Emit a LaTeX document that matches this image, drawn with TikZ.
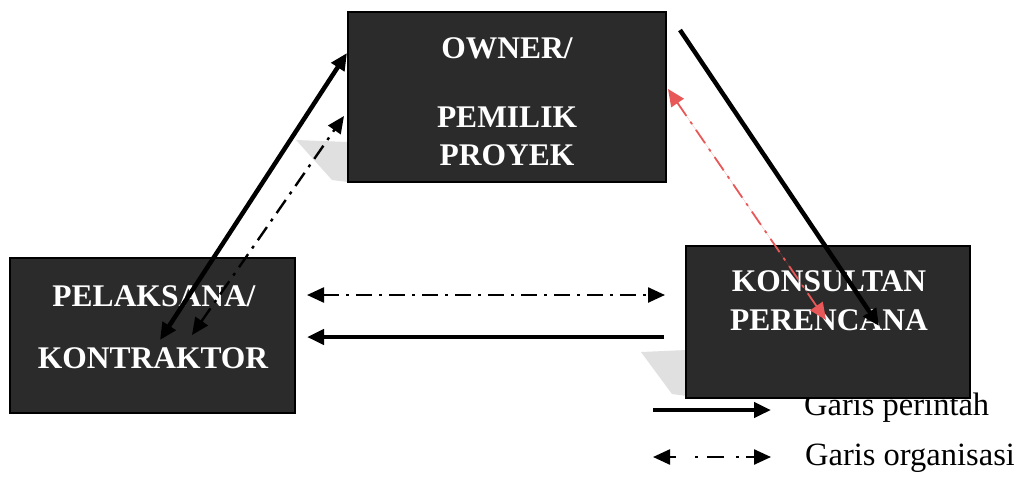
\documentclass[tikz,border=0pt]{standalone}
\usepackage{fontspec}
\setmainfont{Liberation Serif}
\usetikzlibrary{arrows.meta}
\definecolor{boxfill}{HTML}{2B2B2B}
\definecolor{redline}{RGB}{232,88,88}
\begin{document}
\begin{tikzpicture}[x=1pt,y=-1pt,
  darkbox/.style={draw=black,line width=1.5pt,fill=boxfill,minimum width=#1,inner sep=0pt,outer sep=0pt},
  boxlabel/.style={text=white,font=\fontsize{31.5}{33}\selectfont\bfseries,inner sep=0pt},
  legendlabel/.style={text=black,font=\fontsize{32.5}{34}\selectfont,inner sep=0pt},
  cmdline/.style={line width=4.5pt,line cap=butt},
  orgline/.style={line width=2.4pt,dash pattern=on 16pt off 7pt on 3pt off 7pt},
  tipA/.style={-{Triangle[length=17pt,width=15pt]}},
  tipB/.style={{Triangle[length=17pt,width=15pt]}-{Triangle[length=17pt,width=15pt]}},
  shadow/.style={fill=black!12,draw=none}
]
\useasboundingbox (0,0) rectangle (1014,477);
\fill[white] (0,0) rectangle (1014,477);

% faint shadow patches
\fill[shadow] (296,140) -- (348,142) -- (348,182) -- (332,180) -- cycle;
\fill[shadow] (641,352) -- (687,350) -- (687,396) -- (672,394) -- cycle;

% legend text, the first one partly covered by the box
\node[legendlabel,anchor=base west] (lperintah) at (804,415) {Garis perintah};
\node[legendlabel,anchor=base west] (lorganisasi) at (805,465) {Garis organisasi};

% boxes
\node[darkbox=318pt,minimum height=170pt] (owner) at (507,97) {};
\node[darkbox=285pt,minimum height=155pt] (pelaksana) at (152.5,335.5) {};
\node[darkbox=284pt,minimum height=152pt] (konsultan) at (828,322) {};

% box texts
\node[boxlabel] (t1) at (507,48) {OWNER/};
\node[boxlabel] (t2) at (507,117) {PEMILIK};
\node[boxlabel] (t3) at (507,155) {PROYEK};
\node[boxlabel] (t4) at (154,296) {PELAKSANA/};
\node[boxlabel] (t5) at (153,358) {KONTRAKTOR};
\node[boxlabel] (t6) at (829,281) {KONSULTAN};
\node[boxlabel] (t7) at (829,320) {PERENCANA};

% connector end points
\coordinate (pA) at (160,340);
\coordinate (oA) at (347,53);
\coordinate (pB) at (192,335);
\coordinate (oB) at (344,116);
\coordinate (oC) at (680,30);
\coordinate (kC) at (879,326);
\coordinate (oD) at (668,89);
\coordinate (kD) at (826,320);
\coordinate (pE) at (307,295);
\coordinate (kE) at (665,295);
\coordinate (pF) at (307,337);
\coordinate (kF) at (664,337);
\coordinate (lg1a) at (653,410);
\coordinate (lg1b) at (771,410);
\coordinate (lg2a) at (653,457);
\coordinate (lg2b) at (771,457);

% connectors
\draw[cmdline,tipB] (pA) -- (oA);
\draw[orgline,tipB] (pB) -- (oB);
\draw[cmdline,tipA] (oC) -- (kC);
\draw[orgline,tipB,draw=redline,fill=redline,line width=1.8pt] (oD) -- (kD);
\draw[orgline,tipB] (pE) -- (kE);
\draw[cmdline,tipA] (kF) -- (pF);

% legend
\draw[cmdline,tipA] (lg1a) -- (lg1b);
\draw[orgline,tipB,dash pattern=on 7pt off 19pt on 3pt off 9pt on 17pt off 12pt on 3pt off 7pt on 12pt off 40pt] (lg2a) -- (lg2b);
\end{tikzpicture}
\end{document}
